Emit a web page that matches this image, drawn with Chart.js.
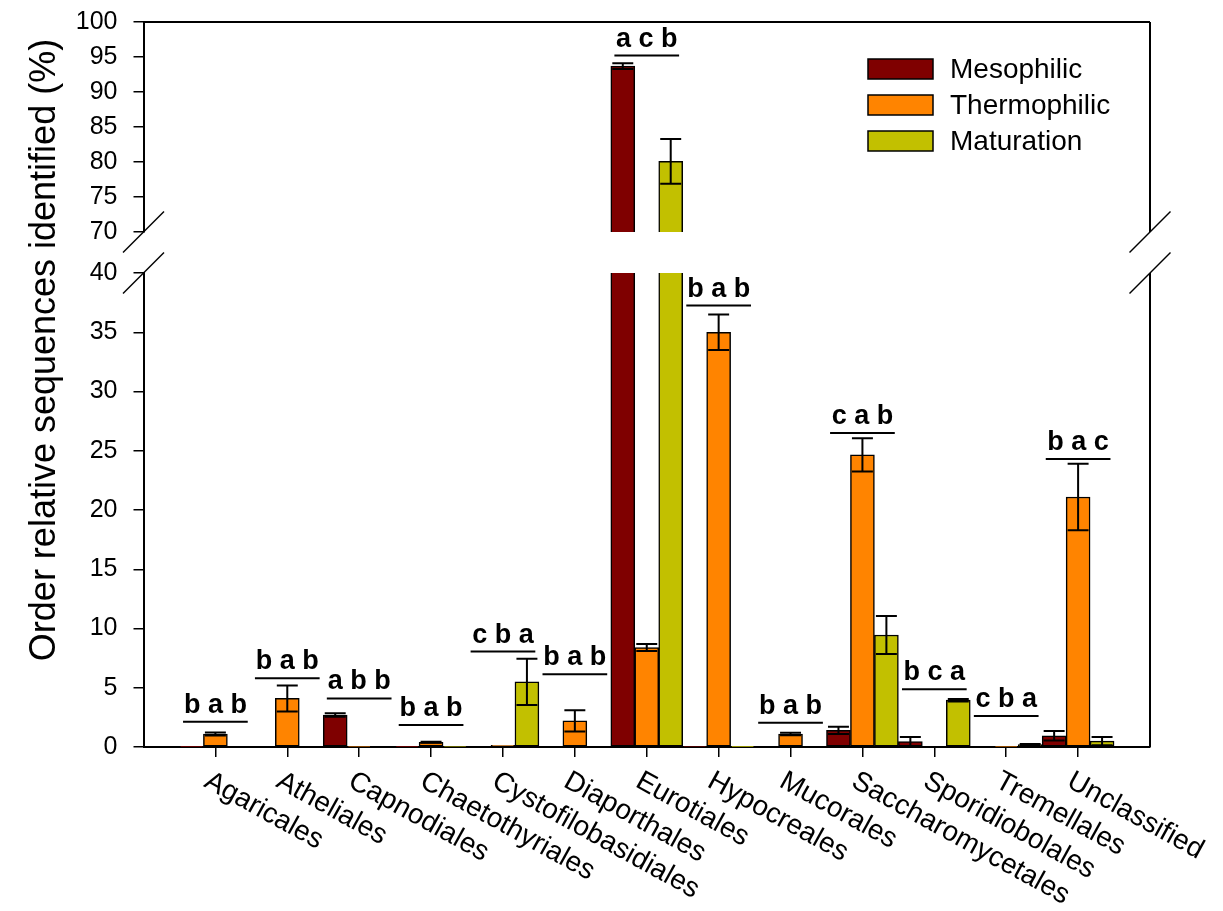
<!DOCTYPE html>
<html>
<head>
<meta charset="utf-8">
<title>Fungal orders by composting phase</title>
<script src="https://cdn.jsdelivr.net/npm/chart.js@4.4.0/dist/chart.umd.min.js"></script>
<style>
  html, body { margin: 0; padding: 0; background: #fff; }
  canvas { display: block; }
</style>
</head>
<body>
<canvas id="chart" width="1223" height="911"></canvas>
<script>
// Data
const categories = ['Agaricales', 'Atheliales', 'Capnodiales', 'Chaetothyriales', 'Cystofilobasidiales',
    'Diaporthales', 'Eurotiales', 'Hypocreales', 'Mucorales', 'Saccharomycetales',
    'Sporidiobolales', 'Tremellales', 'Unclassified'];

const mesophilic    = [0.03, 0, 2.7, 0.03, 0, 0, 93.7, 0.05, 0, 1.4, 0.45, 0, 0.95];
const mesophilicErr = [0, 0, 0.15, 0, 0, 0, 0.4, 0, 0, 0.3, 0.4, 0, 0.4];
const thermophilic    = [1.1, 4.1, 0.02, 0.4, 0.15, 2.2, 8.4, 35.0, 1.1, 24.65, 0, 0.05, 21.1];
const thermophilicErr = [0.12, 1.1, 0, 0.05, 0, 0.9, 0.3, 1.5, 0.1, 1.4, 0, 0, 2.8];
const maturation    = [0, 0, 0, 0.02, 5.5, 0, 80.1, 0.03, 0, 9.45, 3.95, 0.2, 0.5];
const maturationErr = [0, 0, 0, 0, 1.95, 0, 3.2, 0, 0, 1.6, 0.1, 0.05, 0.35];

// significance letters and the level of the line drawn under them
const sigLetters = ['b a b', 'b a b', 'a b b', 'b a b', 'c b a', 'b a b', 'a c b',
    'b a b', 'b a b', 'c a b', 'b c a', 'c b a', 'b a c'];
const sigLevels = [2.14, 5.8, 4.1, 1.86, 8.05, 6.14, 95.2, 37.25, 2.05, 26.5, 4.87, 2.62, 24.3];

const lowerTicks = [0, 5, 10, 15, 20, 25, 30, 35, 40];
const upperTicks = [70, 75, 80, 85, 90, 95, 100];

const LOWER_MAX = 40;
const UPPER_MIN = 70;
const UPPER_MAX = 100;

const seriesNames = ['Mesophilic', 'Thermophilic', 'Maturation'];
const seriesColors = ['#7f0000', '#ff8400', '#c2c000'];
const seriesValues = [mesophilic, thermophilic, maturation];
const seriesErrors = [mesophilicErr, thermophilicErr, maturationErr];

const FONT = '"Liberation Sans", Arial, sans-serif';
Chart.defaults.font.family = FONT;
Chart.defaults.color = '#000';

function lowerSet(idx) {
    const vals = seriesValues[idx];
    return {
        label: seriesNames[idx],
        data: vals.map((v, i) => ({ x: i, y: Math.min(v, LOWER_MAX) })),
        backgroundColor: seriesColors[idx],
        borderColor: '#000',
        borderSkipped: false,
        borderWidth: ctx => vals[ctx.dataIndex] > LOWER_MAX
            ? { top: 0, left: 1.5, right: 1.5, bottom: 1.5 } : 1.5,
        stack: 's' + idx,
        yAxisID: 'y',
        categoryPercentage: 1,
        barPercentage: 1
    };
}

function upperSet(idx) {
    const vals = seriesValues[idx];
    return {
        label: seriesNames[idx] + ' (upper)',
        data: vals.map((v, i) => ({ x: i, y: v > UPPER_MIN ? [UPPER_MIN, v] : null })),
        backgroundColor: seriesColors[idx],
        borderColor: '#000',
        borderSkipped: false,
        borderWidth: { top: 1.5, left: 1.5, right: 1.5, bottom: 0 },
        stack: 's' + idx,
        yAxisID: 'yTop',
        categoryPercentage: 1,
        barPercentage: 1
    };
}

const axisGrid = { drawOnChartArea: false, drawTicks: true, tickLength: 10, color: '#000', lineWidth: 1.5, offset: false };
const axisBorder = { color: '#000', width: 2 };
const tickFont = { size: 25 };

// keep the y axes from pushing the plot area in for their end labels
function fitY(s) {
    s.width = 143.5;
    s.paddingTop = 0;
    s.paddingBottom = 0;
}

// Error bars, frame, axis breaks, letters, legend and axis texts
const decorations = {
    id: 'decorations',
    afterDatasetsDraw(chart) {
        const ctx = chart.ctx;
        const { x: xs, y: yLow, yTop } = chart.scales;
        const area = chart.chartArea;

        ctx.save();
        ctx.strokeStyle = '#000';
        ctx.lineCap = 'butt';

        // error bars
        ctx.lineWidth = 2;
        seriesValues.forEach((vals, s) => {
            const meta = chart.getDatasetMeta(s);
            vals.forEach((v, i) => {
                const e = seriesErrors[s][i];
                if (!e) return;
                const bar = meta.data[i];
                const sc = v > UPPER_MIN ? yTop : yLow;
                const hi = sc.getPixelForValue(v + e);
                const lo = sc.getPixelForValue(v - e);
                const half = bar.width / 2 - 1.5;
                ctx.beginPath();
                ctx.moveTo(bar.x, lo); ctx.lineTo(bar.x, hi);
                ctx.moveTo(bar.x - half, hi); ctx.lineTo(bar.x + half, hi);
                ctx.moveTo(bar.x - half, lo); ctx.lineTo(bar.x + half, lo);
                ctx.stroke();
            });
        });

        // top and right frame
        const breakUp = yTop.getPixelForValue(UPPER_MIN);
        const breakLow = yLow.getPixelForValue(LOWER_MAX);
        ctx.lineWidth = 2;
        ctx.beginPath();
        ctx.moveTo(area.left, area.top); ctx.lineTo(area.right, area.top);
        ctx.moveTo(area.right, area.top); ctx.lineTo(area.right, breakUp);
        ctx.moveTo(area.right, breakLow); ctx.lineTo(area.right, area.bottom);
        ctx.stroke();

        // break marks
        ctx.lineWidth = 1.5;
        [area.left, area.right].forEach(bx => {
            [breakUp, breakLow].forEach(by => {
                ctx.beginPath();
                ctx.moveTo(bx - 20.5, by + 20.5);
                ctx.lineTo(bx + 20.5, by - 20.5);
                ctx.stroke();
            });
        });

        // significance lines and letters
        ctx.lineWidth = 2;
        ctx.fillStyle = '#000';
        ctx.font = 'bold 27px ' + FONT;
        ctx.textAlign = 'center';
        ctx.textBaseline = 'alphabetic';
        sigLetters.forEach((txt, i) => {
            const lv = sigLevels[i];
            const sc = lv > UPPER_MIN ? yTop : yLow;
            const ly = sc.getPixelForValue(lv);
            ctx.beginPath();
            ctx.moveTo(xs.getPixelForValue(i - 0.45), ly);
            ctx.lineTo(xs.getPixelForValue(i + 0.45), ly);
            ctx.stroke();
            ctx.fillText(txt, xs.getPixelForValue(i), ly - 9);
        });

        // legend
        ctx.font = '28px ' + FONT;
        ctx.textAlign = 'left';
        ctx.textBaseline = 'middle';
        ctx.lineWidth = 1.5;
        seriesNames.forEach((name, s) => {
            const top = 59 + s * 36;
            ctx.fillStyle = seriesColors[s];
            ctx.fillRect(868, top, 65, 20);
            ctx.strokeRect(868, top, 65, 20);
            ctx.fillStyle = '#000';
            ctx.fillText(name, 950, top + 11);
        });

        // y axis title
        ctx.save();
        ctx.translate(55, 350);
        ctx.rotate(-Math.PI / 2);
        ctx.font = '36px ' + FONT;
        ctx.textAlign = 'center';
        ctx.textBaseline = 'alphabetic';
        ctx.fillText('Order relative sequences identified (%)', 0, 0);
        ctx.restore();

        // x category labels, slanted down to the right
        ctx.font = '28px ' + FONT;
        ctx.textAlign = 'left';
        ctx.textBaseline = 'top';
        categories.forEach((name, i) => {
            ctx.save();
            ctx.translate(xs.getPixelForValue(i) - 2, area.bottom + 20);
            ctx.rotate(29 * Math.PI / 180);
            ctx.fillText(name, 0, 0);
            ctx.restore();
        });

        ctx.restore();
    }
};

new Chart(document.getElementById('chart'), {
    type: 'bar',
    data: {
        datasets: [lowerSet(0), lowerSet(1), lowerSet(2), upperSet(0), upperSet(1), upperSet(2)]
    },
    options: {
        responsive: false,
        animation: false,
        layout: { padding: { top: 22, right: 73, left: 0, bottom: 0 } },
        plugins: {
            legend: { display: false },
            tooltip: { enabled: false }
        },
        scales: {
            x: {
                type: 'linear',
                min: -1,
                max: categories.length,
                offset: false,
                afterBuildTicks: s => { s.ticks = categories.map((c, i) => ({ value: i })); },
                ticks: { display: false },
                grid: axisGrid,
                border: axisBorder,
                afterFit: s => { s.height = 164; s.paddingLeft = 0; s.paddingRight = 0; }
            },
            y: {
                type: 'linear',
                position: 'left',
                stack: 'v',
                stackWeight: 474,
                min: 0,
                max: LOWER_MAX,
                stacked: false,
                afterBuildTicks: s => { s.ticks = lowerTicks.map(v => ({ value: v })); },
                ticks: { font: tickFont, color: '#000', padding: 16, autoSkip: false },
                grid: axisGrid,
                border: axisBorder,
                afterFit: fitY
            },
            yGap: {
                type: 'linear',
                position: 'left',
                stack: 'v',
                stackWeight: 41,
                min: 0,
                max: 1,
                ticks: { display: false },
                grid: { display: false },
                border: { display: false },
                afterFit: fitY
            },
            yTop: {
                type: 'linear',
                position: 'left',
                stack: 'v',
                stackWeight: 210,
                min: UPPER_MIN,
                max: UPPER_MAX,
                stacked: false,
                afterBuildTicks: s => { s.ticks = upperTicks.map(v => ({ value: v })); },
                ticks: { font: tickFont, color: '#000', padding: 16, autoSkip: false },
                grid: axisGrid,
                border: axisBorder,
                afterFit: fitY
            }
        }
    },
    plugins: [decorations]
});
</script>
</body>
</html>
